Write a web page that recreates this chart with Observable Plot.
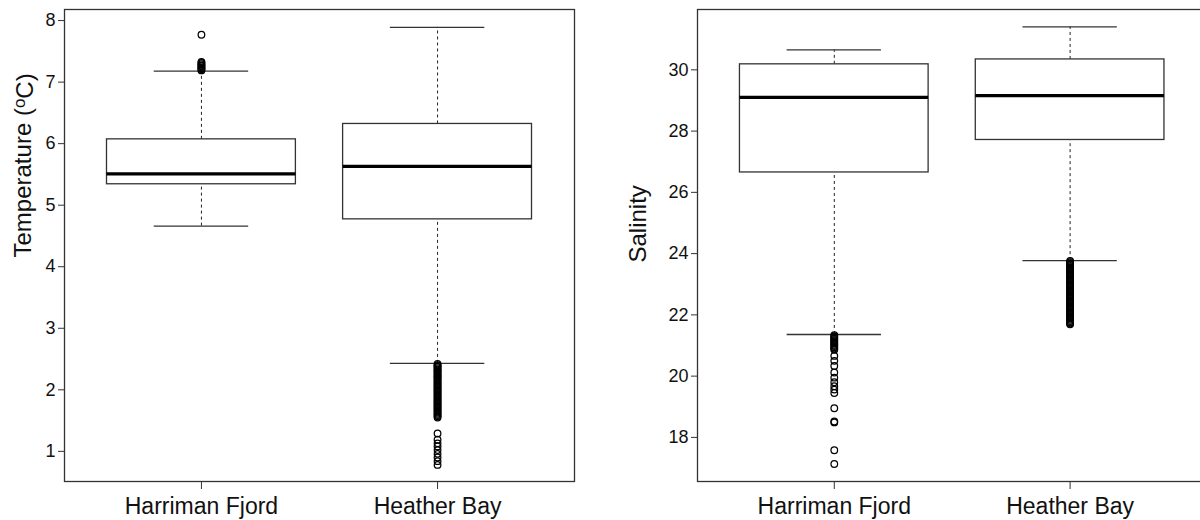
<!DOCTYPE html>
<html>
<head>
<meta charset="utf-8">
<script src="https://cdn.jsdelivr.net/npm/d3@7"></script>
<script src="https://cdn.jsdelivr.net/npm/@observablehq/plot@0.6"></script>
<style>
  html, body { margin: 0; padding: 0; background: #fff; overflow: hidden; width: 1200px; height: 520px; }
  #wrap { position: relative; width: 1200px; height: 520px; overflow: hidden; }
  #left { position: absolute; left: 0; top: 0; width: 600px; }
  #right { position: absolute; left: 600px; top: 0; width: 610px; }
  #wrap svg { max-width: none !important; }
</style>
</head>
<body>
<div id="wrap"><div id="left"></div><div id="right"></div></div>
<script>
// ---- data ----
const categories = ["Harriman Fjord", "Heather Bay"];

// Temperature (ºC)
const tempLow    = [4.66, 2.43];
const tempQ1     = [5.34, 4.77];
const tempMedian = [5.51, 5.63];
const tempQ3     = [6.07, 6.32];
const tempHigh   = [7.18, 7.89];
const tempOutHarriman = [7.19, 7.21, 7.22, 7.24, 7.26, 7.27, 7.29, 7.31, 7.33, 7.77];
const tempOutHeather = [2.42, 2.40, 2.39, 2.37, 2.35, 2.33, 2.31, 2.30, 2.28, 2.26, 2.24, 2.22, 2.21, 2.19,
  2.17, 2.15, 2.13, 2.11, 2.09, 2.07, 2.05, 2.03, 2.01, 1.99, 1.97, 1.95, 1.93, 1.91, 1.89, 1.87,
  1.85, 1.83, 1.81, 1.79, 1.77, 1.75, 1.73, 1.71, 1.69, 1.67, 1.65, 1.63, 1.61, 1.59, 1.57, 1.55,
  1.29, 1.19, 1.13, 1.08, 1.02, 0.96, 0.90, 0.84, 0.78];

// Salinity
const salLow    = [21.36, 23.77];
const salQ1     = [26.65, 27.71];
const salMedian = [29.10, 29.16];
const salQ3     = [30.18, 30.34];
const salHigh   = [30.65, 31.40];
const salOutHarriman = [21.34, 21.30, 21.26, 21.22, 21.18, 21.14, 21.10, 21.06, 21.02, 20.98, 20.94, 20.90, 20.86,
  20.66, 20.50, 20.33, 20.12, 19.95, 19.80, 19.67, 19.56, 19.45, 18.95, 18.52, 18.49, 17.58, 17.13];
const salOutHeather = [23.76, 23.72, 23.68, 23.64, 23.60, 23.56, 23.52, 23.48, 23.44, 23.40, 23.36, 23.32, 23.28,
  23.24, 23.20, 23.16, 23.12, 23.08, 23.04, 23.00, 22.96, 22.92, 22.88, 22.84, 22.80, 22.76, 22.72,
  22.68, 22.64, 22.60, 22.56, 22.52, 22.48, 22.44, 22.40, 22.36, 22.32, 22.28, 22.24, 22.20, 22.16,
  22.12, 22.08, 22.04, 22.00, 21.96, 21.92, 21.88, 21.84, 21.80, 21.76, 21.72, 21.69];

const tempTicks = [1, 2, 3, 4, 5, 6, 7, 8];
const salTicks = [18, 20, 22, 24, 26, 28, 30];

// ---- build tables ----
function stats(low, q1, med, q3, high) {
  return categories.map((c, k) => ({i: k + 1, name: c, low: low[k], q1: q1[k], median: med[k], q3: q3[k], high: high[k]}));
}
function outliers(lists) {
  return lists.flatMap((vals, k) => vals.map(v => ({i: k + 1, value: v})));
}

const font = "'Liberation Sans', Arial, Helvetica, sans-serif";

function panel({stats, outs, yDomain, yTicks, label, width, marginLeft, marginRight, labelDx, labelDy}) {
  const chart = Plot.plot({
    width, height: 520,
    marginTop: 9, marginBottom: 39, marginLeft, marginRight,
    style: {fontFamily: font, background: "white", color: "#111", maxWidth: "none"},
    x: {domain: [0.42, 2.58], axis: null},
    y: {domain: yDomain, axis: null},
    marks: [
      Plot.ruleX(stats, {x: "i", y1: "q3", y2: "high", stroke: "#222", strokeWidth: 1, strokeDasharray: "3,3"}),
      Plot.ruleX(stats, {x: "i", y1: "low", y2: "q1", stroke: "#222", strokeWidth: 1, strokeDasharray: "3,3"}),
      Plot.ruleY(stats, {y: "high", x1: d => d.i - 0.2, x2: d => d.i + 0.2, stroke: "#333", strokeWidth: 1.3}),
      Plot.ruleY(stats, {y: "low", x1: d => d.i - 0.2, x2: d => d.i + 0.2, stroke: "#333", strokeWidth: 1.3}),
      Plot.rect(stats, {x1: d => d.i - 0.4, x2: d => d.i + 0.4, y1: "q1", y2: "q3", fill: "white", stroke: "#333", strokeWidth: 1.3}),
      Plot.ruleY(stats, {y: "median", x1: d => d.i - 0.4, x2: d => d.i + 0.4, stroke: "#000", strokeWidth: 3.2}),
      Plot.dot(outs, {x: "i", y: "value", r: 3.3, stroke: "#000", strokeWidth: 1.25, fill: "none"}),
      Plot.frame({stroke: "#333", strokeWidth: 1.3}),
      Plot.axisY({ticks: yTicks, tickSize: 6, tickPadding: 3, fontSize: 18, label: null, stroke: "#333"}),
      Plot.axisX({ticks: [1, 2], tickFormat: i => categories[i - 1], tickSize: 8, tickPadding: 8, fontSize: 23, label: null, stroke: "#333"}),
      Plot.text([label], {frameAnchor: "left", text: d => d, rotate: -90, dx: labelDx, dy: labelDy, fontSize: 24, fill: "#111"})
    ]
  });
  return chart;
}

const left = panel({
  stats: stats(tempLow, tempQ1, tempMedian, tempQ3, tempHigh),
  outs: outliers([tempOutHarriman, tempOutHeather]),
  yDomain: [0.51, 8.18], yTicks: tempTicks, label: "Temperature (oC)",
  width: 600, marginLeft: 64, marginRight: 26, labelDx: -41.5, labelDy: 12
});
const right = panel({
  stats: stats(salLow, salQ1, salMedian, salQ3, salHigh),
  outs: outliers([salOutHarriman, salOutHeather]),
  yDomain: [16.56, 31.97], yTicks: salTicks, label: "Salinity",
  width: 610, marginLeft: 97, marginRight: 3.6, labelDx: -59, labelDy: 17
});
document.getElementById("left").appendChild(left);
document.getElementById("right").appendChild(right);

// superscript the "o" in the temperature unit
d3.select(left).selectAll("text").each(function () {
  const t = d3.select(this);
  if (t.text() === "Temperature (oC)") {
    t.text(null);
    t.append("tspan").text("Temperature (");
    t.append("tspan").attr("dy", "-0.35em").attr("font-size", "17").text("o");
    t.append("tspan").attr("dy", "0.35em").text("C)");
  }
});
</script>
</body>
</html>
